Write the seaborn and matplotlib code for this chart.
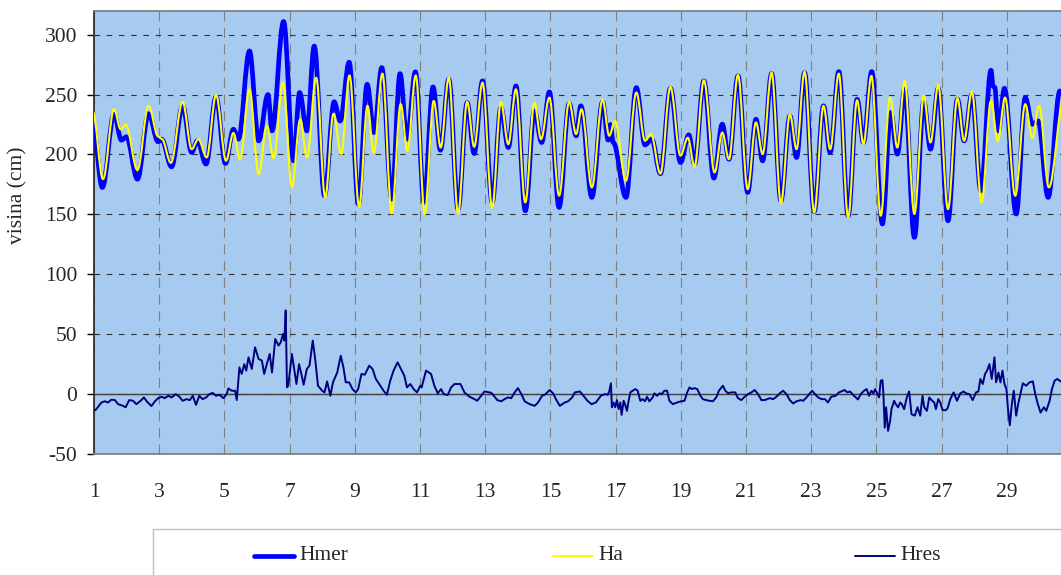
import matplotlib
matplotlib.use("Agg")
import matplotlib.pyplot as plt
import seaborn as sns
from matplotlib.path import Path
from matplotlib.patches import PathPatch, Rectangle
from matplotlib.lines import Line2D

# Hmer - measured sea level: turning points (day of month, height in cm)
hmer_day = [0.96, 1.256, 1.615, 1.841, 1.995, 2.333, 2.672, 2.969, 3.072, 3.379,
            3.718, 3.995, 4.169, 4.436, 4.744, 5.031, 5.277, 5.431, 5.769, 6.051,
            6.337, 6.459, 6.816, 7.122, 7.306, 7.531, 7.755, 8.071, 8.367, 8.551,
            8.827, 9.112, 9.378, 9.592, 9.827, 10.133, 10.388, 10.602, 10.86, 11.123,
            11.4, 11.626, 11.882, 12.169, 12.446, 12.662, 12.918, 13.215, 13.482, 13.708,
            13.944, 14.231, 14.508, 14.733, 14.969, 15.267, 15.574, 15.79, 15.933, 16.272,
            16.6, 16.774, 16.836, 16.928, 17.318, 17.636, 17.903, 18.108, 18.374, 18.682,
            18.99, 19.246, 19.421, 19.708, 20.015, 20.272, 20.477, 20.754, 21.051, 21.306,
            21.51, 21.786, 22.071, 22.347, 22.551, 22.796, 23.092, 23.378, 23.582, 23.847,
            24.133, 24.408, 24.602, 24.857, 25.184, 25.439, 25.643, 25.866, 26.165, 26.454,
            26.66, 26.897, 27.196, 27.485, 27.691, 27.928, 28.206, 28.515, 28.58, 28.63,
            28.742, 28.928, 29.289, 29.567, 29.784, 29.959, 30.268, 30.629, 30.8]
hmer_cm = [226, 172.5, 233.6, 212, 214.7, 179.4, 234, 210.6, 212.8, 189.7,
           240.6, 201.7, 211.4, 192, 248, 192.5, 221, 212.8, 286.4, 211.4,
           250, 219.7, 311, 194.7, 251.7, 219.7, 290.5, 165.6, 244, 228,
           277, 158.6, 258.6, 218.3, 272.5, 162.8, 267.5, 212.8, 269, 160,
           256.4, 203.6, 262.8, 154.4, 243.3, 200.8, 261.4, 160, 239.2, 205.8,
           257.2, 153, 236.4, 210, 252.2, 155.8, 242.5, 215.6, 240.6, 164.2,
           244, 212, 225, 210, 164.2, 255.8, 208, 212.8, 184, 255.3,
           193.3, 216.4, 192, 261.4, 180.3, 225.3, 196, 265.6, 168.3, 229.4,
           194.7, 267.5, 161.4, 232.2, 197.5, 268.3, 152.5, 240.6, 201.7, 269.2,
           148.9, 246, 210, 269.2, 142, 235, 200.3, 254.4, 130.8, 244,
           204.4, 255.3, 144.7, 246, 211.4, 250.3, 169.7, 270.3, 257, 256,
           219.7, 255.3, 150.3, 247.5, 225.3, 228, 164.2, 253, 250]

# Ha - astronomical tide: turning points (day of month, height in cm)
ha_day = [0.96, 1.277, 1.615, 1.821, 1.974, 2.333, 2.672, 2.97, 3.08, 3.359,
          3.718, 3.995, 4.2, 4.456, 4.744, 5.051, 5.277, 5.482, 5.769, 6.051,
          6.306, 6.51, 6.796, 7.071, 7.327, 7.531, 7.816, 8.092, 8.347, 8.582,
          8.837, 9.133, 9.388, 9.582, 9.847, 10.133, 10.408, 10.612, 10.87, 11.144,
          11.421, 11.636, 11.882, 12.169, 12.446, 12.662, 12.918, 13.215, 13.482, 13.708,
          13.944, 14.231, 14.508, 14.713, 14.969, 15.267, 15.574, 15.79, 15.954, 16.272,
          16.6, 16.805, 16.979, 17.318, 17.636, 17.903, 18.087, 18.374, 18.682, 18.99,
          19.215, 19.421, 19.708, 20.036, 20.272, 20.477, 20.754, 21.051, 21.306, 21.51,
          21.786, 22.071, 22.347, 22.551, 22.796, 23.092, 23.378, 23.582, 23.847, 24.133,
          24.408, 24.602, 24.847, 25.133, 25.418, 25.643, 25.866, 26.165, 26.454, 26.66,
          26.897, 27.196, 27.485, 27.691, 27.928, 28.227, 28.515, 28.722, 28.948, 29.258,
          29.567, 29.784, 29.99, 30.289, 30.75]
ha_cm = [236, 179.4, 237.8, 221, 224.7, 187, 240.6, 215, 213, 193,
         244, 204.4, 212.8, 197.5, 249.7, 194.7, 218, 196, 254.4, 183.6,
         224, 197, 260, 172.5, 229.4, 197.5, 264, 164, 234, 200.3,
         266, 156.4, 240.6, 201.7, 267.5, 150.8, 242, 203, 266, 150.3,
         244.7, 205.8, 264.2, 150.8, 244, 206.4, 260, 155.3, 243.9, 208.6,
         254.4, 160, 243.3, 212.8, 247.5, 165.6, 244, 217, 237.8, 172.5,
         246, 215.6, 228, 178, 251.7, 211.4, 217, 184, 256.4, 199,
         214, 189.7, 262, 185, 218.3, 196, 266.4, 171, 226.7, 200.3,
         268.3, 159.2, 233.6, 204.4, 269.2, 151.7, 240.6, 204.4, 267.5, 147.5,
         245.3, 208.6, 265.6, 148.9, 247.5, 205.8, 261.4, 150.3, 248.9, 210,
         258, 154.4, 247, 211.4, 252.5, 160, 244.7, 211.4, 247.5, 165.6,
         242, 214, 240.6, 172.5, 246]

# Hres - residual (measured minus astronomical), cm
hres_day = [1.0, 1.07, 1.23, 1.33, 1.43, 1.53, 1.64, 1.74, 1.89, 1.97,
            2.08, 2.2, 2.3, 2.43, 2.53, 2.63, 2.76, 2.87, 2.97, 3.07,
            3.17, 3.28, 3.38, 3.51, 3.62, 3.72, 3.84, 3.94, 4.03, 4.13,
            4.23, 4.33, 4.44, 4.54, 4.64, 4.74, 4.85, 4.97, 5.07, 5.12,
            5.23, 5.33, 5.38, 5.46, 5.53, 5.61, 5.67, 5.74, 5.84, 5.94,
            6.05, 6.15, 6.22, 6.3, 6.39, 6.46, 6.56, 6.66, 6.73, 6.8,
            6.84, 6.88, 6.92, 6.96, 7.07, 7.14, 7.21, 7.29, 7.36, 7.43,
            7.53, 7.61, 7.71, 7.79, 7.87, 8.0, 8.07, 8.15, 8.25, 8.33,
            8.46, 8.569, 8.651, 8.723, 8.826, 8.928, 9.031, 9.103, 9.205, 9.308,
            9.441, 9.544, 9.646, 9.749, 9.882, 9.985, 10.087, 10.19, 10.313, 10.415,
            10.518, 10.6, 10.703, 10.805, 10.908, 11.01, 11.051, 11.185, 11.338, 11.441,
            11.544, 11.646, 11.728, 11.851, 11.954, 12.056, 12.241, 12.364, 12.518, 12.672,
            12.754, 12.877, 12.979, 13.185, 13.267, 13.369, 13.492, 13.595, 13.697, 13.8,
            13.903, 14.005, 14.108, 14.21, 14.364, 14.518, 14.621, 14.744, 14.826, 14.979,
            15.082, 15.185, 15.287, 15.441, 15.544, 15.667, 15.749, 15.903, 15.974, 16.056,
            16.138, 16.262, 16.395, 16.549, 16.672, 16.754, 16.805, 16.856, 16.887, 16.938,
            16.99, 17.041, 17.092, 17.144, 17.185, 17.246, 17.287, 17.349, 17.39, 17.451,
            17.523, 17.605, 17.677, 17.759, 17.831, 17.903, 17.964, 18.036, 18.138, 18.19,
            18.272, 18.344, 18.415, 18.497, 18.579, 18.651, 18.754, 18.887, 19.01, 19.113,
            19.195, 19.267, 19.338, 19.421, 19.503, 19.605, 19.677, 19.779, 19.882, 19.985,
            20.087, 20.169, 20.292, 20.364, 20.446, 20.549, 20.672, 20.754, 20.856, 20.959,
            21.062, 21.164, 21.267, 21.369, 21.472, 21.574, 21.728, 21.831, 21.933, 22.036,
            22.138, 22.241, 22.344, 22.446, 22.549, 22.682, 22.754, 22.856, 22.959, 23.031,
            23.113, 23.215, 23.318, 23.421, 23.513, 23.615, 23.749, 23.851, 24.026, 24.108,
            24.19, 24.313, 24.436, 24.518, 24.621, 24.703, 24.774, 24.846, 24.908, 24.959,
            25.031, 25.082, 25.133, 25.185, 25.215, 25.256, 25.297, 25.359, 25.421, 25.462,
            25.544, 25.595, 25.667, 25.728, 25.779, 25.851, 25.933, 26.005, 26.077, 26.179,
            26.262, 26.344, 26.415, 26.467, 26.549, 26.621, 26.692, 26.774, 26.826, 26.897,
            26.959, 27.031, 27.133, 27.185, 27.267, 27.369, 27.472, 27.574, 27.677, 27.749,
            27.851, 27.954, 28.056, 28.128, 28.19, 28.262, 28.333, 28.395, 28.467, 28.538,
            28.621, 28.672, 28.744, 28.805, 28.867, 28.928, 28.99, 29.031, 29.092, 29.154,
            29.215, 29.287, 29.359, 29.441, 29.492, 29.595, 29.697, 29.8, 29.872, 29.954,
            30.036, 30.138, 30.21, 30.313, 30.385, 30.467, 30.549, 30.651, 30.75]
hres_cm = [-14, -12.6, -7, -6, -7, -4.7, -5, -8.4, -9.8, -11,
           -5, -5.6, -8.4, -5.6, -2.8, -6.4, -10, -6, -3.4, -2.2,
           -3.4, -1.4, -2.8, 0, -2.2, -5.6, -4.2, -5, -1.4, -9,
           -1.4, -4.2, -2.8, 0, 1, -1.4, -0.6, -3.4, 0, 4.7,
           2.8, 2.8, -5, 22.3, 16.8, 25, 19.6, 30.7, 21, 39,
           29.3, 28, 16.8, 25, 33.5, 18, 46, 40.5, 43.3, 50.3,
           44.7, 69.8, 5.6, 7, 33.5, 21, 8.4, 25, 16.8, 7.8,
           21, 23.7, 44.7, 28, 7, 2.8, 1.4, 10.6, -1.4, 9.8,
           18, 32, 22.3, 9.8, 9.8, 4.2, 1.4, 4.2, 16.8, 16.2,
           23.7, 21, 12.6, 8.4, 2.8, -0.6, 11.2, 19.6, 26.5, 21,
           15.4, 5.6, 8.4, 4.2, 1.4, 7, 5.6, 19.6, 16.8, 7,
           0.6, 4.2, 0, -0.8, 5.6, 8.4, 8.4, 1.4, -2.2, -4.2,
           -5.6, -1.4, 2.2, 1.1, -1.4, -5, -6, -4.2, -2.8, -3.4,
           1.4, 5, 0, -6, -8.4, -9.8, -7, -1.4, -0.6, 3.4,
           0.6, -5, -9.8, -7, -6, -2.8, 1.4, 2.2, 0, -2.8,
           -5.6, -8.4, -7, -1.4, 0, -0.6, 2.2, 9, -11, -7,
           -11, -5, -12.6, -7, -17.3, -5.6, -8.4, -14, -7, 1.4,
           2.8, 4.2, 2.8, -5.6, -4.2, -6, -2.2, -6, -2.8, 0.6,
           -1.4, 0.6, 0, 2.8, 2.8, -5.6, -8.4, -7, -6, -5.6,
           1.4, 5.6, 4.2, 5, 4.2, -1.4, -4.2, -5, -5.6, -6,
           -2.8, 2.8, 7, 2.8, 0.8, 1.4, 1.4, -3.4, -5, -2.2,
           0, 1.4, 3.4, 0, -5, -5, -3.4, -4.2, -2.2, 0.6,
           2.8, 0, -5, -7.8, -6, -5, -5.6, -2.8, 0.6, 2.8,
           0, -2.8, -4.2, -4.2, -7, -2.2, -1.4, 1.4, 3.4, 1.4,
           2.2, -1.4, -4.5, 0, 2.8, 4.2, -1.4, 2.8, 0.6, 4.2,
           0, -2.8, 11.2, 11.7, 0, -28, -11, -30.7, -22.3, -12.6,
           -5.6, -8.4, -11, -7, -8.4, -12.6, -2.8, 2.2, -16.8, -18,
           -11, -18, -1.4, -11, -14, -2.8, -5, -7, -12.6, -4.2,
           -7, -13.4, -13.4, -11.7, -4.2, 1.4, -5.6, 0.6, 2.2, 0.6,
           0, -5, 1.4, 2.2, 12.6, 8.4, 16.8, 19.6, 25, 12.6,
           30.7, 9.8, 18, 9.8, 19.6, 8.4, 4.2, -11, -26, -8.4,
           2.8, -18, -7, 2.8, 9, 7, 9.8, 10.6, 0, -8.4,
           -15.4, -11, -14, -5.6, 4.2, 11.2, 12.6, 10.6, 10]

day_ticks = list(range(1, 30, 2))
height_ticks = list(range(-50, 301, 50))

series_colors = {"Hmer": "#0000FF", "Ha": "#FFFF00", "Hres": "#000080"}
series_widths = {"Hmer": 3.4, "Ha": 1.5, "Hres": 1.4}


def smoothed_path(xs, ys, k=0.36):
    """Smoothed line through turning points (cubic Bezier segments with
    flat tangents at each turning point)."""
    verts = [(xs[0], ys[0])]
    codes = [Path.MOVETO]
    for i in range(len(xs) - 1):
        dx = xs[i + 1] - xs[i]
        verts += [(xs[i] + k * dx, ys[i]),
                  (xs[i + 1] - k * dx, ys[i + 1]),
                  (xs[i + 1], ys[i + 1])]
        codes += [Path.CURVE4] * 3
    return Path(verts, codes)


W, H = 1061, 575
sns.set_style("white")
plt.rcParams["font.family"] = ["Liberation Serif", "DejaVu Serif"]
FS = 15.5

fig = plt.figure(figsize=(W / 100, H / 100), dpi=100)
x0_px, x1_px = 94, 94 + 30 * 32.6
y0_px, y1_px = 10.7, 454
ax = fig.add_axes([x0_px / W, 1 - y1_px / H, (x1_px - x0_px) / W, (y1_px - y0_px) / H])
ax.set_facecolor("#A6CAF0")
ax.set_xlim(1, 31)
ax.set_ylim(-50, 320)

# grid
ax.set_axisbelow(True)
ax.set_xticks(day_ticks)
ax.set_xticklabels([str(d) for d in day_ticks])
ax.set_yticks(height_ticks)
ax.set_yticklabels([str(v) for v in height_ticks])
ax.grid(axis="y", color="#333333", linestyle=(0, (5, 6)), linewidth=0.8)
ax.grid(axis="x", color="#808080", linestyle=(0, (9, 6)), linewidth=0.8)
ax.axhline(0, color="#404040", linewidth=1.0, zorder=2.5)

# measured and astronomical heights
ax.add_patch(PathPatch(smoothed_path(hmer_day, hmer_cm), fill=False,
                       edgecolor=series_colors["Hmer"], linewidth=series_widths["Hmer"],
                       joinstyle="round", capstyle="round", zorder=3))
ax.add_patch(PathPatch(smoothed_path(ha_day, ha_cm), fill=False,
                       edgecolor=series_colors["Ha"], linewidth=series_widths["Ha"],
                       joinstyle="round", capstyle="round", zorder=4))

# residual
sns.lineplot(x=hres_day, y=hres_cm, ax=ax, color=series_colors["Hres"],
             linewidth=series_widths["Hres"], estimator=None, legend=False, zorder=5)

# axes styling
ax.spines["right"].set_visible(False)
ax.spines["left"].set_color("#303030")
ax.spines["left"].set_linewidth(1.3)
ax.spines["top"].set_color("#808080")
ax.spines["top"].set_linewidth(1.3)
ax.spines["bottom"].set_color("#808080")
ax.spines["bottom"].set_linewidth(1.3)
ax.tick_params(axis="y", direction="out", length=5, width=1, color="black",
               pad=7, labelsize=FS, left=True)
ax.tick_params(axis="x", length=0, pad=21, labelsize=FS)
ax.set_xlabel("")
ax.set_ylabel("")

fig.text(18 / W, 1 - 195 / H, "visina (cm)", rotation=90, ha="center", va="center",
         fontsize=FS)

# legend
fig.add_artist(Rectangle((152.5 / W, -0.05), (1075 - 152.5) / W, (1 - 529 / H) + 0.05,
                         transform=fig.transFigure, facecolor="white",
                         edgecolor="#c0c0c0", linewidth=1.0))
legend_entries = [("Hmer", 254), ("Ha", 553), ("Hres", 855)]
ly = 1 - 556 / H
for name, lx in legend_entries:
    fig.add_artist(Line2D([lx / W, (lx + 40) / W], [ly, ly], transform=fig.transFigure,
                          color=series_colors[name], linewidth=series_widths[name]))
    fig.text((lx + 45) / W, ly, name, ha="left", va="center", fontsize=FS)

fig.savefig("out.png", dpi=100)
